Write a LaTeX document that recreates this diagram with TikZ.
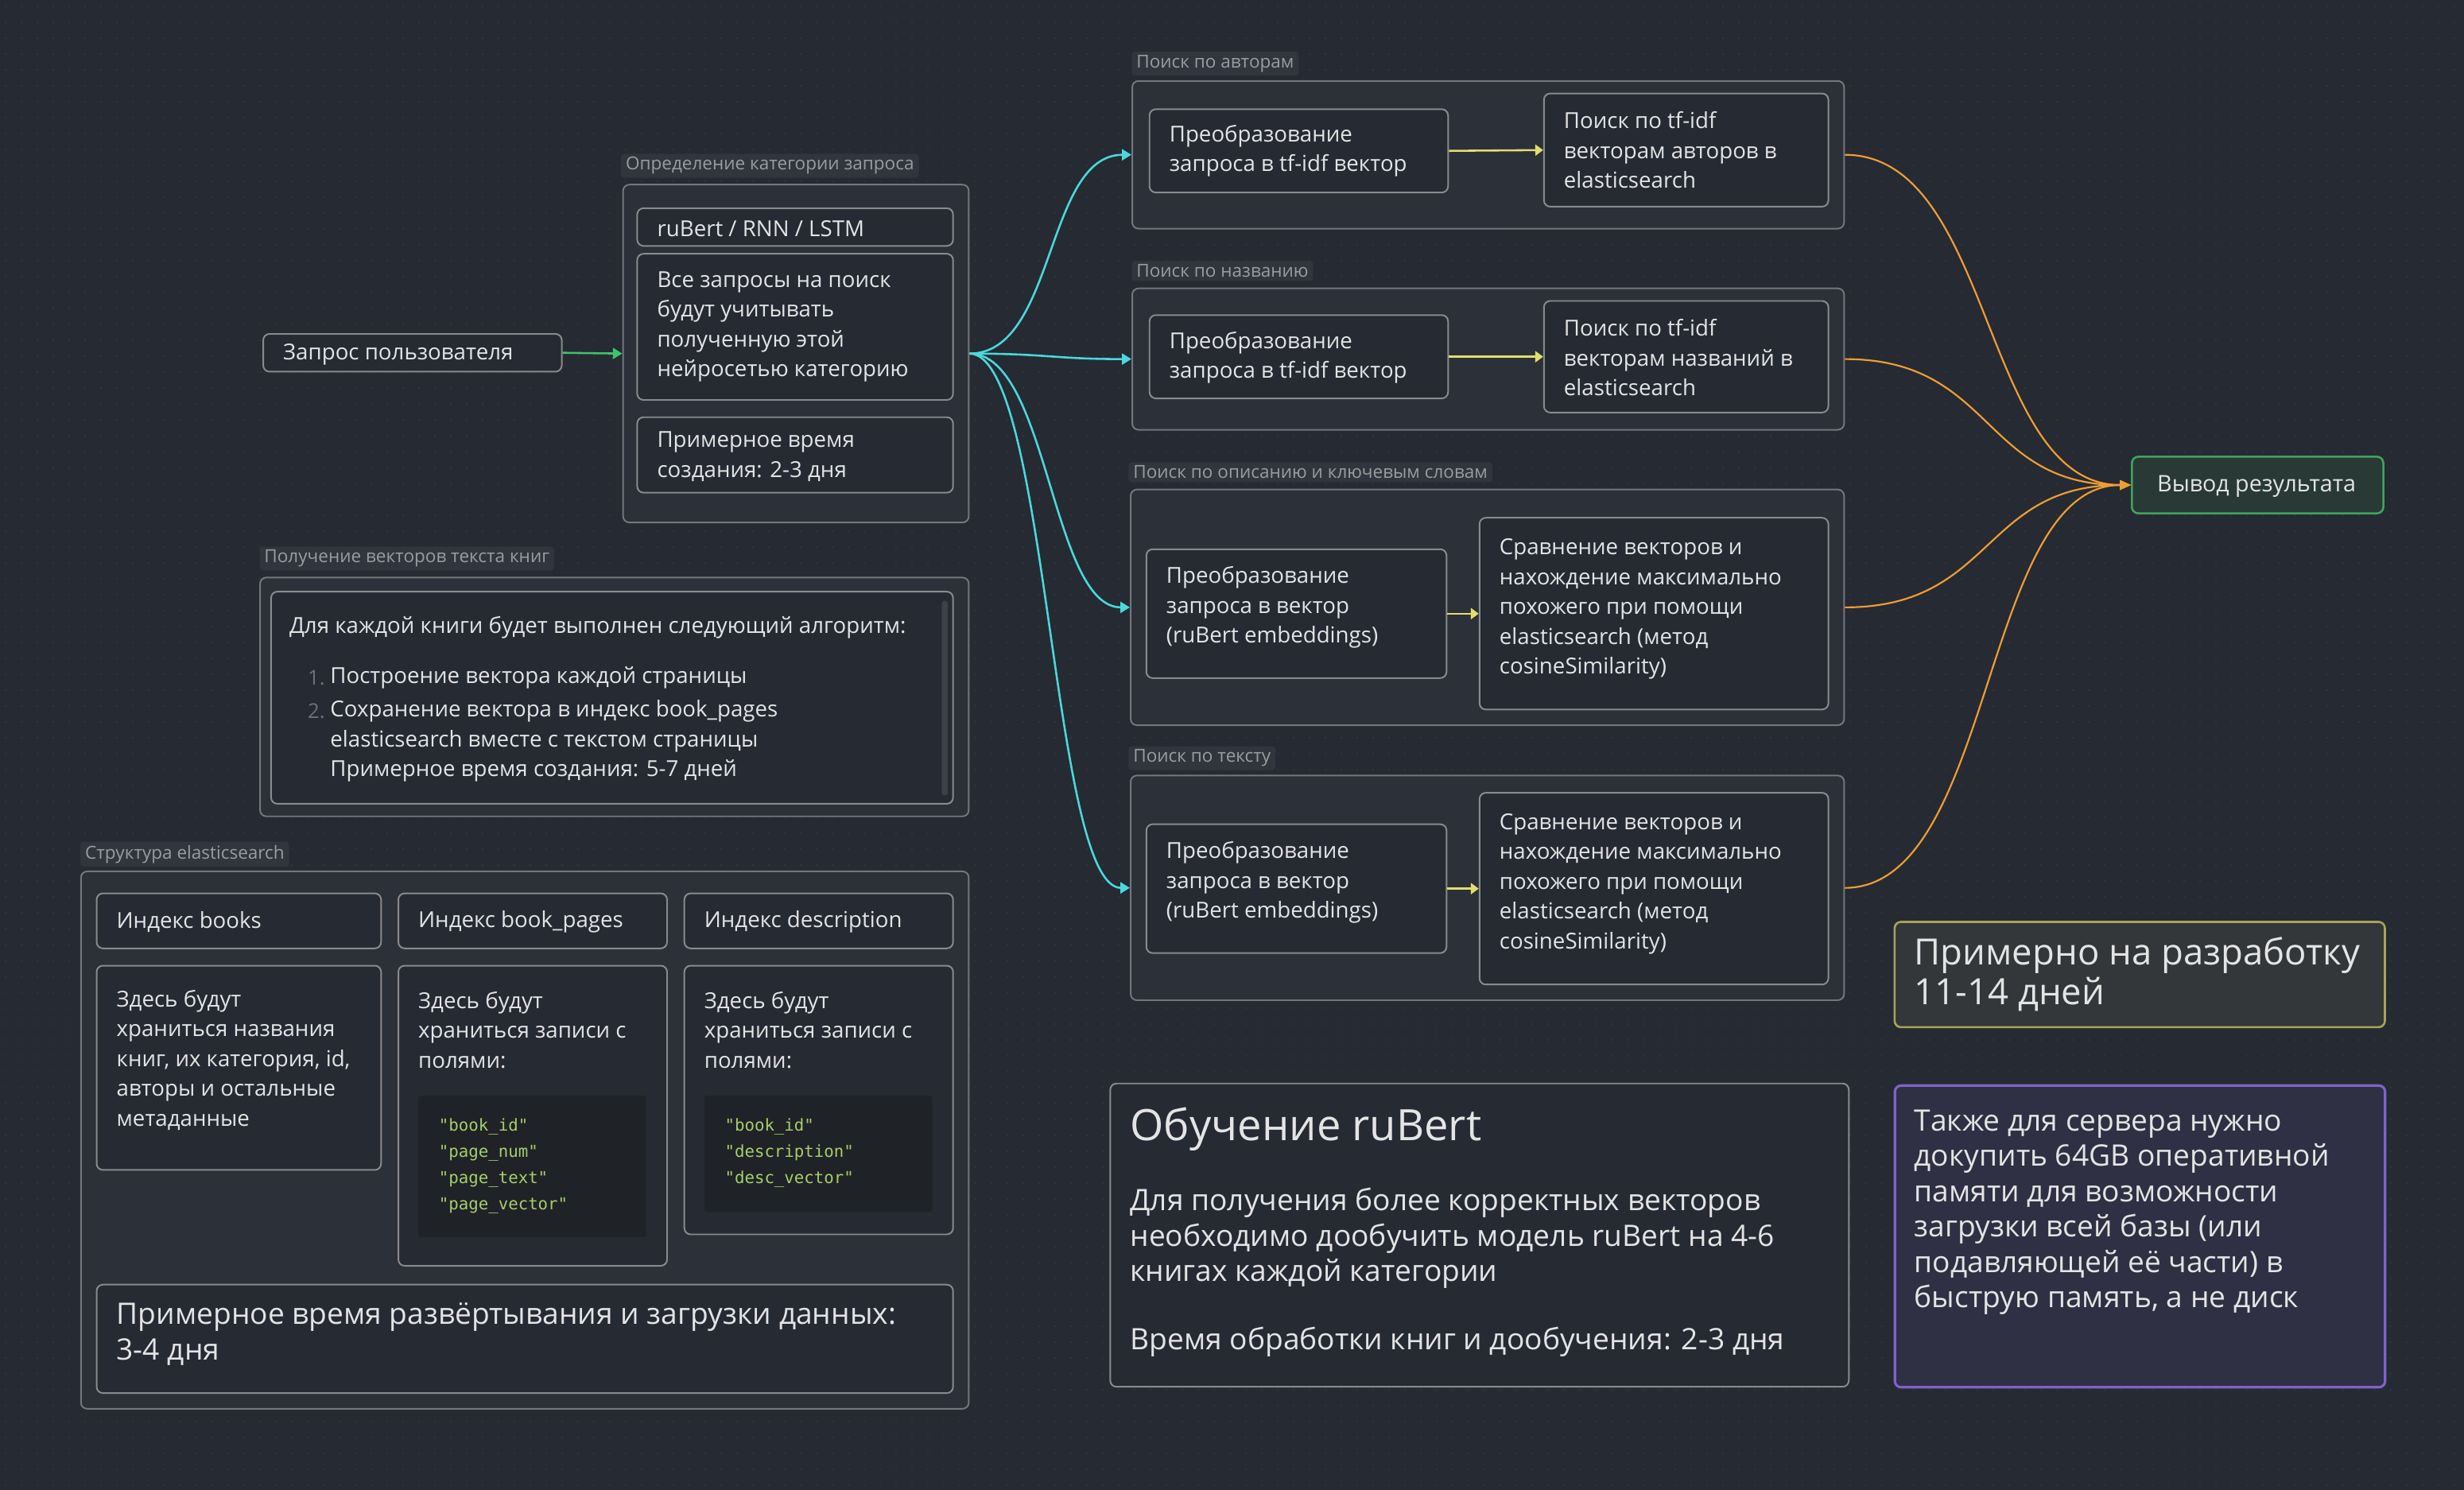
\documentclass[tikz,border=0pt]{standalone}
\usepackage{fontspec}
\setmainfont{Open Sans}
\setmonofont{DejaVu Sans Mono}
\usetikzlibrary{arrows.meta}
\definecolor{bgc}{HTML}{262A33}
\definecolor{dotc}{HTML}{30343D}
\definecolor{grpfill}{HTML}{2C3039}
\definecolor{grpline}{HTML}{74767A}
\definecolor{nodeline}{HTML}{8A8A8C}
\definecolor{nodefill}{HTML}{262A33}
\definecolor{lblfill}{HTML}{31353D}
\definecolor{lbltext}{HTML}{9A9C9E}
\definecolor{txt}{HTML}{E4E4E4}
\definecolor{numc}{HTML}{6E7178}
\definecolor{codebg}{HTML}{1F2227}
\definecolor{codetxt}{HTML}{A5CF6A}
\definecolor{scrollc}{HTML}{3C4048}
\definecolor{cyanc}{HTML}{4AD8DA}
\definecolor{yel}{HTML}{E3DD6C}
\definecolor{ora}{HTML}{EE9E32}
\definecolor{grn}{HTML}{3CC46A}
\definecolor{resline}{HTML}{3DA55D}
\definecolor{resfill}{HTML}{283936}
\definecolor{olive}{HTML}{A9A553}
\definecolor{olivefill}{HTML}{33373A}
\definecolor{purp}{HTML}{7F62CC}
\definecolor{purpfill}{HTML}{2F3044}
\tikzset{
  grp/.style={draw=grpline, fill=grpfill, rounded corners=4pt, line width=1pt, inner sep=0pt},
  bx/.style={draw=nodeline, fill=nodefill, rounded corners=4pt, line width=1pt, inner sep=0pt},
  codebox/.style={fill=codebg, draw=none, rounded corners=2pt, inner sep=0pt},
  scroll/.style={fill=scrollc, draw=none, rounded corners=2pt, inner sep=0pt},
  resbox/.style={draw=resline, fill=resfill, rounded corners=4pt, line width=1.3pt, inner sep=0pt},
  estbox/.style={draw=olive, fill=olivefill, rounded corners=4pt, line width=1.3pt, inner sep=0pt},
  srvbox/.style={draw=purp, fill=purpfill, rounded corners=4pt, line width=1.6pt, inner sep=0pt},
  lbl/.style={fill=lblfill, text=lbltext, font=\fontsize{11.4}{13}\selectfont, rounded corners=2pt, inner xsep=3pt, inner ysep=2.2pt, anchor=west},
  tx/.style={text=txt, font=\fontsize{14}{19}\selectfont, align=left, anchor=west, inner sep=0pt, yshift=-1.5pt},
  bigtx/.style={tx, font=\fontsize{18.8}{22.5}\selectfont, yshift=-0.5pt},
  code/.style={text=codetxt, font=\ttfamily\fontsize{10.5}{16.7}\selectfont, align=left, anchor=west, inner sep=0pt},
  num/.style={text=numc, font=\fontsize{13}{19}\selectfont, anchor=east, inner sep=0pt, yshift=-1.5pt},
  cy/.style={draw=cyanc, line width=1.3pt, -{Triangle[length=6pt,width=7pt]}},
  ye/.style={draw=yel, line width=1.3pt, -{Triangle[length=5pt,width=7pt]}},
  orarrow/.style={draw=ora, line width=1.1pt, -{Triangle[length=7pt,width=6pt]}},
  grarrow/.style={draw=grn, line width=1.3pt, -{Triangle[length=6pt,width=7pt]}},
  dotrow/.style={draw=dotc, line width=0.8pt, dash pattern=on 0.8pt off 9.32pt},
}
\newcommand\mkbox[6]{\node[#6, anchor=north west, minimum width={#4-#2}, minimum height={#5-#3}] (#1) at (#2,#3) {};}
\begin{document}
\begin{tikzpicture}[x=1pt,y=-1pt]
\fill[bgc] (0,0) rectangle (1568,948);
\useasboundingbox (0,0) rectangle (1568,948);
\foreach \r in {0,...,93} {
  \draw[dotrow] (3,{4+10.12*\r}) -- (1568,{4+10.12*\r});
}

% left column
\mkbox{q}{167}{212}{357}{236}{bx}
\node[tx] (tq) at (180,224) {Запрос пользователя};

\node[lbl] (l1) at (395,105.5) {Определение категории запроса};
\mkbox{g1}{396}{117}{616}{332}{grp}
\mkbox{g1a}{405}{132}{606}{156}{bx}
\mkbox{g1b}{405}{161}{606}{254}{bx}
\mkbox{g1c}{405}{265}{606}{313}{bx}
\node[tx] (t1a) at (418,144) {ruBert / RNN / LSTM};
\node[tx] (t1b) at (418,206.5) {Все запросы на поиск\\будут учитывать\\полученную этой\\нейросетью категорию};
\node[tx] (t1c) at (418,289) {Примерное время\\создания: 2-3 дня};

\node[lbl] (l2) at (165,355.5) {Получение векторов текста книг};
\mkbox{g2}{165}{367}{616}{519}{grp}
\mkbox{g2a}{172}{376}{606}{511}{bx}
\mkbox{g2s}{599}{382}{603}{506}{scroll}
\node[tx] (t2a) at (184,398) {Для каждой книги будет выполнен следующий алгоритм:};
\node[num] (n1) at (207,430) {1.};
\node[num] (n2) at (207,451) {2.};
\node[tx] (t2b) at (210,430) {Построение вектора каждой страницы};
\node[tx] (t2c) at (210,470) {Сохранение вектора в индекс book\_pages\\elasticsearch вместе с текстом страницы\\Примерное время создания: 5-7 дней};

\node[lbl] (l3) at (51,543.5) {Структура elasticsearch};
\mkbox{g3}{51}{554}{616}{896}{grp}
\mkbox{ib}{61}{568}{242}{603}{bx}
\mkbox{ip}{253}{568}{424}{603}{bx}
\mkbox{id}{435}{568}{606}{603}{bx}
\node[tx] (tib) at (74,585) {Индекс books};
\node[tx] (tip) at (266,585) {Индекс book\_pages};
\node[tx] (tid) at (448,585) {Индекс description};
\mkbox{bb}{61}{614}{242}{744}{bx}
\node[tx] (tbb) at (74,673) {Здесь будут\\храниться названия\\книг, их категория, id,\\авторы и остальные\\метаданные};
\mkbox{pb}{253}{614}{424}{805}{bx}
\node[tx] (tpb) at (266,654) {Здесь будут\\храниться записи с\\полями:};
\mkbox{pc}{266}{697}{411}{787}{codebox}
\node[code] (cpc) at (279,742) {"book\_id"\\"page\_num"\\"page\_text"\\"page\_vector"};
\mkbox{db}{435}{614}{606}{785}{bx}
\node[tx] (tdb) at (448,654) {Здесь будут\\храниться записи с\\полями:};
\mkbox{dc}{448}{697}{593}{771}{codebox}
\node[code] (cdc) at (461,733.5) {"book\_id"\\"description"\\"desc\_vector"};
\mkbox{tb}{61}{817}{606}{886}{bx}
\node[bigtx] (ttb) at (74,847) {Примерное время развёртывания и загрузки данных:\\3-4 дня};

% right groups
\node[lbl] (la) at (720,40.5) {Поиск по авторам};
\mkbox{ga}{720}{51}{1173}{145}{grp}
\mkbox{ga1}{731}{69}{921}{122}{bx}
\mkbox{ga2}{982}{59}{1163}{131}{bx}
\node[tx] (ta1) at (744,94.5) {Преобразование\\запроса в tf-idf вектор};
\node[tx] (ta2) at (995,94) {Поиск по tf-idf\\векторам авторов в\\elasticsearch};

\node[lbl] (ln) at (720,172.5) {Поиск по названию};
\mkbox{gn}{720}{183}{1173}{273}{grp}
\mkbox{gn1}{731}{200}{921}{253}{bx}
\mkbox{gn2}{982}{191}{1163}{262}{bx}
\node[tx] (tn1) at (744,226) {Преобразование\\запроса в tf-idf вектор};
\node[tx] (tn2) at (995,226) {Поиск по tf-idf\\векторам названий в\\elasticsearch};

\node[lbl] (ld) at (718,300.5) {Поиск по описанию и ключевым словам};
\mkbox{gd}{719}{311}{1173}{461}{grp}
\mkbox{gd1}{729}{349}{920}{431}{bx}
\mkbox{gd2}{941}{329}{1163}{451}{bx}
\node[tx] (td1) at (742,385) {Преобразование\\запроса в вектор\\(ruBert embeddings)};
\node[tx] (td2) at (954,386) {Сравнение векторов и\\нахождение максимально\\похожего при помощи\\elasticsearch (метод\\cosineSimilarity)};

\node[lbl] (lt) at (718,482.5) {Поиск по тексту};
\mkbox{gt}{719}{493}{1173}{636}{grp}
\mkbox{gt1}{729}{524}{920}{606}{bx}
\mkbox{gt2}{941}{504}{1163}{626}{bx}
\node[tx] (tt1) at (742,560) {Преобразование\\запроса в вектор\\(ruBert embeddings)};
\node[tx] (tt2) at (954,561) {Сравнение векторов и\\нахождение максимально\\похожего при помощи\\elasticsearch (метод\\cosineSimilarity)};

\mkbox{res}{1356}{290}{1516}{326}{resbox}
\node[tx, anchor=center, font=\fontsize{14.5}{17}\selectfont] (tres) at (1436,308) {Вывод результата};

\mkbox{est}{1205}{586}{1517}{653}{estbox}
\node[tx, font=\fontsize{23}{25}\selectfont] (test) at (1218,618.5) {Примерно на разработку\\11-14 дней};

\mkbox{trn}{706}{689}{1176}{882}{bx}
\node[tx, font=\fontsize{27.5}{30}\selectfont] (ttr) at (719,717) {Обучение ruBert};
\node[bigtx] (ttr2) at (719,786) {Для получения более корректных векторов\\необходимо дообучить модель ruBert на 4-6\\книгах каждой категории};
\node[bigtx] (ttr3) at (719,852) {Время обработки книг и дообучения: 2-3 дня};

\mkbox{srv}{1205}{690}{1517}{882}{srvbox}
\node[bigtx] (tsrv) at (1218,769.5) {Также для сервера нужно\\докупить 64GB оперативной\\памяти для возможности\\загрузки всей базы (или\\подавляющей её части) в\\быструю память, а не диск};

% connectors
\draw[grarrow] (q.east) -- (g1.west);
\draw[cy] (g1.east) .. controls +(55,0) and +(-55,0) .. (ga.west);
\draw[cy] (g1.east) .. controls +(50,0) and +(-50,0) .. (gn.west);
\draw[cy] (g1.east) .. controls +(50,0) and +(-50,0) .. (gd.west);
\draw[cy] (g1.east) .. controls +(50,0) and +(-50,0) .. (gt.west);
\draw[ye] (ga1.east) -- (ga2.west);
\draw[ye] (gn1.east) -- (gn2.west);
\draw[ye] (gd1.east) -- (gd2.west);
\draw[ye] (gt1.east) -- (gt2.west);
\draw[orarrow] (ga.east) .. controls +(95,0) and +(-95,0) .. (res.west);
\draw[orarrow] (gn.east) .. controls +(95,0) and +(-95,0) .. (res.west);
\draw[orarrow] (gd.east) .. controls +(95,0) and +(-95,0) .. (res.west);
\draw[orarrow] (gt.east) .. controls +(95,0) and +(-95,0) .. (res.west);
\end{tikzpicture}
\end{document}
